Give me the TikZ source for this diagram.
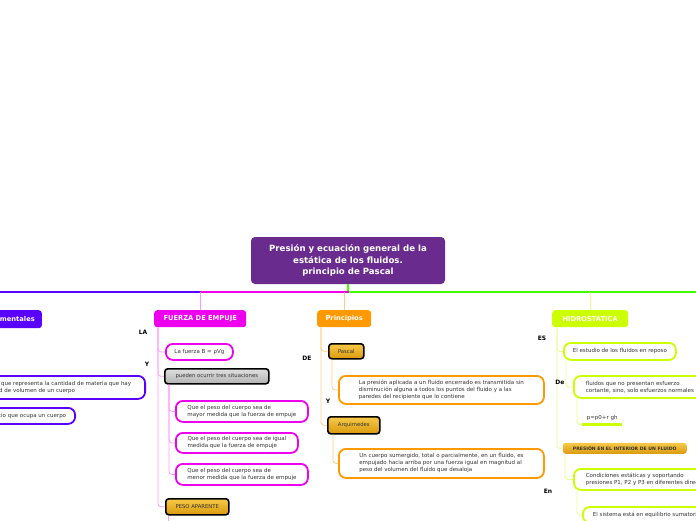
\documentclass[tikz,border=0pt]{standalone}
\usepackage{fontspec}
\setmainfont{DejaVu Sans}
\usetikzlibrary{positioning}
\definecolor{rootpurple}{HTML}{6A2B8E}
\definecolor{fundblue}{HTML}{5A00FF}
\definecolor{empmag}{HTML}{EE00EE}
\definecolor{empmagpale}{HTML}{FF99FF}
\definecolor{prinorange}{HTML}{FF9900}
\definecolor{prinpale}{HTML}{FFCC88}
\definecolor{hidrogreen}{HTML}{CCFF00}
\definecolor{hidropale}{HTML}{E5FF88}
\definecolor{linegreen}{HTML}{44FF00}
\definecolor{goldtop}{HTML}{F7C948}
\definecolor{goldbot}{HTML}{D99A0E}
\definecolor{inktext}{HTML}{333333}
\tikzset{root/.style={rectangle, rounded corners=4pt, fill=rootpurple, text=white,
font=\bfseries\fontsize{8.6}{11.5}\selectfont, align=center, inner sep=0pt},
topic/.style={rectangle, rounded corners=3pt, text=white,
font=\bfseries\fontsize{6.7}{8}\selectfont, inner sep=0pt, anchor=north west},
idea/.style={rectangle, rounded corners=7pt, draw, line width=1.8pt, fill=white,
text=inktext, font=\fontsize{5.5}{7}\selectfont, align=left, inner sep=0pt, anchor=north west},
tag/.style={rectangle, rounded corners=3pt, draw=black, line width=1.6pt,
top color=goldtop, bottom color=goldbot, text=inktext,
font=\fontsize{5.3}{6}\selectfont, inner sep=0pt, anchor=north west},
link/.style={font=\bfseries\fontsize{6}{7}\selectfont, text=black, inner sep=0pt},
spine/.style={line width=0.8pt, rounded corners=3pt},
rail/.style={line width=1.3pt}}
\begin{document}
\begin{tikzpicture}[x=1pt,y=-1pt]
    \useasboundingbox (0,0) rectangle (696,520);
    \clip (0,0) rectangle (696,520);

    % Central topic and the rail under it
    \node[root, minimum width=194pt, minimum height=47pt] (root) at (348,260.5)
        {Presión y ecuación general de la\\estática de los fluidos.\\principio de Pascal};
    \coordinate (hub) at (349,292);
    \coordinate (westEnd) at (-5,292);
    \coordinate (eastEnd) at (701,292);

    % Left branch (cut by the frame)
    \node[topic, anchor=north east, fill=fundblue, minimum height=18pt, inner xsep=7pt] (fund) at (42,310) {Conceptos fundamentales};
    \node[idea, anchor=north east, draw=fundblue, minimum height=23pt, inner xsep=14pt] (densidad) at (146,375)
        {magnitud que representa la cantidad de materia que hay\\por unidad de volumen de un cuerpo};
    \node[idea, anchor=north east, draw=fundblue, minimum height=16pt, inner xsep=9pt] (volumen) at (76,407) {el espacio que ocupa un cuerpo};

    % Fuerza de empuje
    \node[topic, fill=empmag, minimum width=92pt, minimum height=17pt] (fuerza) at (154,310) {FUERZA DE EMPUJE};
    \node[idea, draw=empmag, minimum width=67pt, minimum height=16pt] (laB) at (165,343) {La fuerza B = ρVg};
    \node[tag, top color=gray!25, bottom color=gray!60, minimum width=104pt, minimum height=15pt] (tres) at (164,368) {pueden ocurrir tres situaciones};
    \node[idea, draw=empmag, minimum width=132pt, minimum height=21pt] (mayor) at (175,400)
        {Que el peso del cuerpo sea de\\mayor medida que la fuerza de empuje};
    \node[idea, draw=empmag, minimum width=122pt, minimum height=20pt] (igual) at (175,432)
        {Que el peso del cuerpo sea de igual\\medida que la fuerza de empuje};
    \node[idea, draw=empmag, minimum width=132pt, minimum height=21pt] (menor) at (175,463)
        {Que el peso del cuerpo sea de\\menor medida que la fuerza de empuje};
    \node[tag, minimum width=63pt, minimum height=16pt] (peso) at (165,498) {PESO APARENTE};
    \coordinate (pesoEnd) at (168,530);

    % Principios
    \node[topic, fill=prinorange, minimum width=54pt, minimum height=17pt] (principios) at (317,310) {Principios};
    \node[tag, minimum width=35pt, minimum height=15pt] (pascal) at (328,343) {Pascal};
    \node[idea, draw=prinorange, minimum width=205pt, minimum height=28pt] (pascalTxt) at (338,375)
        {La presión aplicada a un fluido encerrado es transmitida sin\\disminución alguna a todos los puntos del fluido y a las\\paredes del recipiente que lo contiene};
    \node[tag, minimum width=52pt, minimum height=17pt] (arquimedes) at (327,416) {Arquimedes};
    \node[idea, draw=prinorange, minimum width=205pt, minimum height=29pt] (arqTxt) at (338,448)
        {Un cuerpo sumergido, total o parcialmente, en un fluido, es\\empujado hacia arriba por una fuerza igual en magnitud al\\peso del volumen del fluido que desaloja};

    % Hidrostatica
    \node[topic, fill=hidrogreen, minimum width=76pt, minimum height=17pt] (hidro) at (552,310) {HIDROSTÁTICA};
    \node[idea, draw=hidrogreen, minimum width=112pt, minimum height=17pt] (estudio) at (563,342) {El estudio de los fluidos en reposo};
    \node[idea, draw=hidrogreen, minimum height=22pt, inner xsep=12pt] (fluidos) at (573,375)
        {fluidos que no presentan esfuerzo\\cortante, sino, solo esfuerzos normales};
    \node[anchor=north west, text=inktext, font=\fontsize{5.5}{6}\selectfont, minimum width=40pt, minimum height=12pt, inner sep=0pt] (formula) at (582,412) {p=p0+r gh};
    \draw[line width=2.5pt, hidrogreen] (formula.south west) -- (formula.south east);
    \node[tag, draw=none, minimum width=124pt, minimum height=11pt, font=\bfseries\fontsize{4.6}{5}\selectfont] (presion) at (562,442) {PRESIÓN EN EL INTERIOR DE UN FLUIDO};
    \node[idea, draw=hidrogreen, minimum height=21pt, inner xsep=12pt] (cond) at (573,468)
        {Condiciones estáticas y soportando\\presiones P1, P2 y P3 en diferentes direcciones};
    \node[idea, draw=hidrogreen, minimum height=16pt, inner xsep=10pt] (sistema) at (582,506) {El sistema está en equilibrio sumatoria de fuerzas};

    % Rail
    \draw[rail, linegreen] (root.south) -- (root.south |- hub) -- (eastEnd);
    \draw[rail, empmag] (hub) -- (fuerza.north |- hub);
    \draw[rail, fundblue] (fuerza.north |- hub) -- (westEnd);
    \draw[rail, empmagpale] (fuerza.north |- hub) -- (fuerza.north);
    \draw[rail, prinpale] (principios.north |- hub) -- (principios.north);
    \draw[rail, hidropale] (hidro.north |- hub) -- (hidro.north);

    % Spines
    \draw[spine, empmagpale] ([xshift=4pt]fuerza.south west) |- (laB.west);
    \draw[spine, empmagpale] ([xshift=4pt]fuerza.south west) |- (tres.west);
    \draw[spine, empmagpale] ([xshift=4pt]fuerza.south west) |- (peso.west);
    \draw[spine, empmagpale] ([xshift=5pt]tres.south west) |- (mayor.west);
    \draw[spine, empmagpale] ([xshift=5pt]tres.south west) |- (igual.west);
    \draw[spine, empmagpale] ([xshift=5pt]tres.south west) |- (menor.west);
    \draw[spine, empmagpale] (peso.south west -| pesoEnd) -- (pesoEnd);

    \draw[spine, prinpale] ([xshift=4pt]principios.south west) |- (pascal.west);
    \draw[spine, prinpale] ([xshift=4pt]principios.south west) |- (arquimedes.west);
    \draw[spine, prinpale] ([xshift=4pt]pascal.south west) |- (pascalTxt.west);
    \draw[spine, prinpale] ([xshift=6pt]arquimedes.south west) |- (arqTxt.west);

    \draw[spine, hidropale] ([xshift=5pt]hidro.south west) |- (estudio.west);
    \draw[spine, hidropale] ([xshift=5pt]hidro.south west) |- (presion.west);
    \draw[spine, hidropale] ([xshift=3pt]estudio.south west) |- (fluidos.west);
    \draw[spine, hidropale] ([xshift=4pt]fluidos.south west) |- (formula.south west);
    \draw[spine, hidropale] ([xshift=3pt]presion.south west) |- (cond.west);
    \draw[spine, hidropale] ([xshift=4pt]cond.south west) |- (sistema.west);

    % Link words
    \node[link] (la) at (143,332) {LA};
    \node[link] (y1) at (147,364) {Y};
    \node[link] (de) at (307,358) {DE};
    \node[link] (y2) at (328,401) {Y};
    \node[link] (es) at (542,338) {ES};
    \node[link] (de2) at (560,382) {De};
    \node[link] (en) at (548,491) {En};
\end{tikzpicture}
\end{document}
